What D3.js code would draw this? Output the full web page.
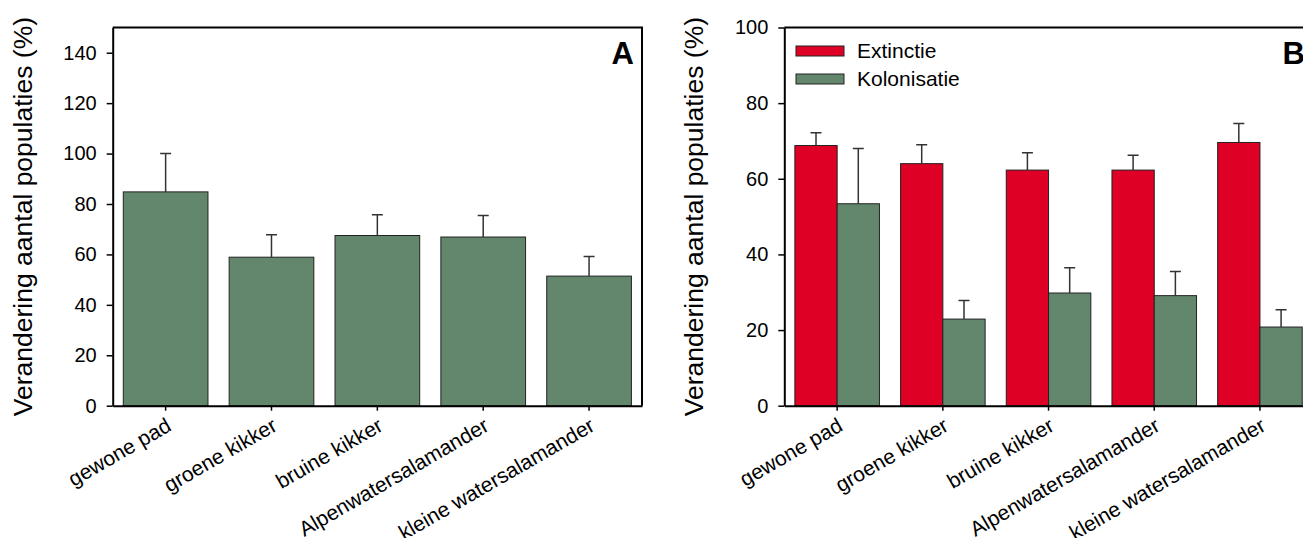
<!DOCTYPE html>
<html>
<head>
<meta charset="utf-8">
<script src="https://cdn.jsdelivr.net/npm/d3@7"></script>
<style>
  body { margin: 0; background: #fff; }
  svg { display: block; font-family: "Liberation Sans", Arial, sans-serif; }
</style>
</head>
<body>
<svg id="chart"></svg>
<script>
let species = ["gewone pad", "groene kikker", "bruine kikker", "Alpenwatersalamander", "kleine watersalamander"];

// panel A: change in number of populations
let changeA = [84.8, 58.9, 67.5, 66.9, 51.4];
let changeAErr = [15.2, 8.9, 8.2, 8.5, 7.8];

// panel B: extinction / colonisation
let extinctie = [68.8, 64.0, 62.3, 62.3, 69.6];
let extinctieErr = [3.4, 5.0, 4.6, 3.9, 5.0];
let kolonisatie = [53.4, 22.9, 29.8, 29.1, 20.8];
let kolonisatieErr = [14.6, 4.9, 6.7, 6.4, 4.6];

let ticksA = [0, 20, 40, 60, 80, 100, 120, 140];
let ticksB = [0, 20, 40, 60, 80, 100];
let seriesNames = ["Extinctie", "Kolonisatie"];

let width = 1303;
let height = 538;
let plotTop = 27.5;
let plotBottom = 405.7;

let red = "#df0025";
let green = "#63876d";
let yTitle = "Verandering aantal populaties (%)";

let svg = d3.select("#chart").attr("width", width).attr("height", height);

let drawPanel = (left, right, yMax, yTicks, label) => {
  let g = svg.append("g");

  let xScale = d3.scaleBand()
    .domain(species)
    .range([left, right])
    .paddingInner(0.2)
    .paddingOuter(0.1);

  let yScale = d3.scaleLinear()
    .domain([0, yMax])
    .range([plotBottom, plotTop]);

  // frame top + right
  g.append("path")
    .attr("d", `M${left},${plotTop}H${right}V${plotBottom}`)
    .attr("fill", "none")
    .attr("stroke", "#000")
    .attr("stroke-width", 2);

  let yAxis = d3.axisLeft(yScale).tickValues(yTicks).tickSize(6).tickSizeOuter(0);
  let yg = g.append("g")
    .attr("transform", `translate(${left},0)`)
    .call(yAxis);
  yg.select(".domain").attr("stroke-width", 2);
  yg.selectAll(".tick line").attr("stroke-width", 1.5);
  yg.selectAll("text")
    .attr("x", -16)
    .style("font-size", "20px")
    .attr("fill", "#000");

  g.append("text")
    .attr("transform", `translate(${left - 81},${(plotTop + plotBottom) / 2}) rotate(-90)`)
    .attr("text-anchor", "middle")
    .style("font-size", "26.5px")
    .attr("fill", "#000")
    .text(yTitle);

  g.append("text")
    .attr("x", right - 8)
    .attr("y", 63.5)
    .attr("text-anchor", "end")
    .style("font-size", "31px")
    .style("font-weight", "bold")
    .text(label);

  return { g, xScale, yScale };
};

let drawXAxis = (p) => {
  let xAxis = d3.axisBottom(p.xScale).tickSize(5).tickSizeOuter(0);
  let xg = p.g.append("g")
    .attr("transform", `translate(0,${plotBottom})`)
    .call(xAxis);
  xg.select(".domain").attr("stroke-width", 2);
  xg.selectAll(".tick line").attr("stroke-width", 1.5);
  xg.selectAll("text")
    .attr("x", 0)
    .attr("y", 0)
    .attr("dy", 0)
    .attr("transform", "translate(7,24) rotate(-30)")
    .style("text-anchor", "end")
    .style("font-size", "21px")
    .attr("fill", "#000");
};

let drawErrors = (g, xs, tops, errs, yScale, cap) => {
  g.selectAll(null)
    .data(tops)
    .enter()
    .append("path")
    .attr("d", (d, i) => {
      let x = xs(i);
      let y0 = yScale(d);
      let y1 = yScale(d + errs[i]);
      return `M${x},${y0}V${y1}M${x - cap / 2},${y1}H${x + cap / 2}`;
    })
    .attr("fill", "none")
    .attr("stroke", "#333")
    .attr("stroke-width", 1.5);
};

// ---- Panel A ----
let pA = drawPanel(112.7, 642, 150, ticksA, "A");

pA.g.selectAll(".barA")
  .data(changeA)
  .enter()
  .append("rect")
  .attr("class", "barA")
  .attr("x", (d, i) => pA.xScale(species[i]))
  .attr("y", (d) => pA.yScale(d))
  .attr("width", pA.xScale.bandwidth())
  .attr("height", (d) => pA.yScale(0) - pA.yScale(d))
  .attr("fill", green)
  .attr("stroke", "#222")
  .attr("stroke-width", 1);

drawErrors(pA.g, (i) => pA.xScale(species[i]) + pA.xScale.bandwidth() / 2, changeA, changeAErr, pA.yScale, 11);
drawXAxis(pA);

// ---- Panel B ----
let pB = drawPanel(784.3, 1312.8, 100, ticksB, "B");

let subScale = d3.scaleBand()
  .domain(seriesNames)
  .range([0, pB.xScale.bandwidth()]);

let seriesB = [
  { name: "Extinctie", values: extinctie, errs: extinctieErr, color: red },
  { name: "Kolonisatie", values: kolonisatie, errs: kolonisatieErr, color: green }
];

seriesB.forEach((s) => {
  pB.g.selectAll(null)
    .data(s.values)
    .enter()
    .append("rect")
    .attr("x", (d, i) => pB.xScale(species[i]) + subScale(s.name))
    .attr("y", (d) => pB.yScale(d))
    .attr("width", subScale.bandwidth())
    .attr("height", (d) => pB.yScale(0) - pB.yScale(d))
    .attr("fill", s.color)
    .attr("stroke", "#222")
    .attr("stroke-width", 1);

  drawErrors(pB.g, (i) => pB.xScale(species[i]) + subScale(s.name) + subScale.bandwidth() / 2,
    s.values, s.errs, pB.yScale, 11);
});
drawXAxis(pB);

// legend
let legend = pB.g.append("g").attr("transform", "translate(796,46)");
seriesB.forEach((s, i) => {
  legend.append("rect")
    .attr("x", 0)
    .attr("y", i * 28)
    .attr("width", 48)
    .attr("height", 10)
    .attr("fill", s.color)
    .attr("stroke", "#222")
    .attr("stroke-width", 1);
  legend.append("text")
    .attr("x", 61)
    .attr("y", i * 28 + 5)
    .attr("dy", "0.35em")
    .style("font-size", "21px")
    .text(s.name);
});
</script>
</body>
</html>
